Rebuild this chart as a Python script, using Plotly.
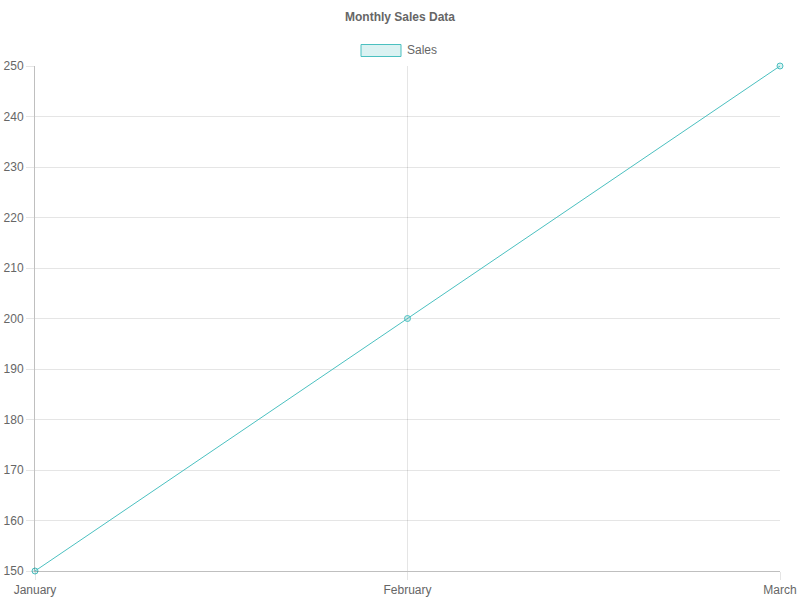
import plotly.graph_objects as go

# data
months = ["January", "February", "March"]
sales = [150, 200, 250]
series_name = "Sales"
chart_title = "Monthly Sales Data"

teal = "rgb(75,192,192)"
teal_fill = "rgba(75,192,192,0.2)"
grid = "rgba(0,0,0,0.1)"

fig = go.Figure()
fig.add_trace(go.Scatter(
    x=months, y=sales, name=series_name, mode="lines+markers",
    line=dict(color=teal, width=1),
    marker=dict(size=6, color=teal_fill, line=dict(color=teal, width=1)),
    cliponaxis=False, showlegend=False,
))

# chart.js style legend: box + label (paper coords relative to plot area)
fig.add_shape(type="rect", xref="paper", yref="paper",
              x0=(361 - 35) / 745, x1=(401 - 35) / 745,
              y0=1 + (66 - 56.5) / 505, y1=1 + (66 - 44.5) / 505,
              fillcolor=teal_fill, line=dict(color=teal, width=1))
fig.add_annotation(text=series_name, xref="paper", yref="paper",
                   x=(405 - 35) / 745, y=1 + (66 - 50.5) / 505,
                   xanchor="left", yanchor="middle", showarrow=False,
                   font=dict(size=12, color="#666"))

fig.update_layout(
    width=800, height=600,
    margin=dict(l=35, r=20, t=66, b=29),
    paper_bgcolor="white", plot_bgcolor="white",
    font=dict(family="Liberation Sans, Arial, sans-serif", size=12, color="#666"),
    title=dict(text="<b>" + chart_title + "</b>", x=0.5, xanchor="center",
               y=1 - 17 / 600, yanchor="middle",
               font=dict(size=12, color="#666")),
    showlegend=False,
)
fig.update_xaxes(
    type="category", range=[0, 2], automargin=False,
    showgrid=True, gridcolor=grid, gridwidth=1,
    showline=True, linecolor="rgba(0,0,0,0.25)", linewidth=1,
    ticks="outside", ticklen=8, tickcolor=grid, zeroline=False,
    tickfont=dict(size=12, color="#666"),
)
fig.update_yaxes(
    range=[150, 250], dtick=10, automargin=False,
    showgrid=True, gridcolor=grid, gridwidth=1,
    showline=True, linecolor="rgba(0,0,0,0.25)", linewidth=1,
    ticks="outside", ticklen=8, tickcolor=grid, zeroline=False,
    tickfont=dict(size=12, color="#666"),
)

# drop the default 8px body margin so the figure sits at the page corner
fig.write_html("out.html", config={"displayModeBar": False},
               post_script="document.body.style.margin='0';")
